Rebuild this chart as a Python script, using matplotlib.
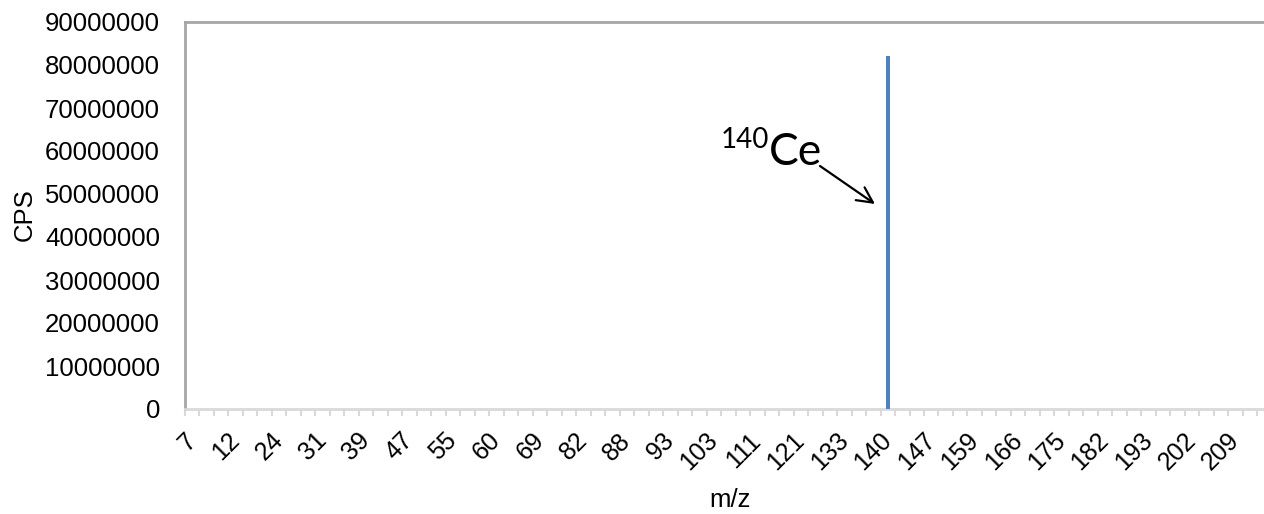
import matplotlib
matplotlib.use("Agg")
import matplotlib.pyplot as plt
from matplotlib.ticker import FixedLocator, FuncFormatter
import numpy as np

# ---- data ----
# labelled m/z categories (every third category carries a label)
tick_labels = ["7", "12", "24", "31", "39", "47", "55", "60", "69", "82", "88", "93",
               "103", "111", "121", "133", "140", "147", "159", "166", "175", "182",
               "193", "202", "209"]
n_categories = 74
label_step = 3
peak_label = "140"
peak_cps = 82000000
cps = np.zeros(n_categories)
cps[tick_labels.index(peak_label) * label_step] = peak_cps
y_ticks = [0, 10000000, 20000000, 30000000, 40000000, 50000000, 60000000,
           70000000, 80000000, 90000000]

W, H = 1264, 514
plt.rcParams['font.family'] = ['Liberation Sans', 'DejaVu Sans']
fig = plt.figure(figsize=(W / 100, H / 100), dpi=100)
ax = fig.add_axes([185 / W, 1 - 409 / H, 1 - 185 / W, (409 - 22) / H])

x = np.arange(n_categories)
ax.bar(x, cps, width=0.28, color="#4F81BD", zorder=3)

ax.set_xlim(-0.5, -0.5 + (W - 185) / 14.49)
ax.set_ylim(0, 90000000)

ax.yaxis.set_major_locator(FixedLocator(y_ticks))
ax.yaxis.set_major_formatter(FuncFormatter(lambda v, p: f"{int(v)}"))
ax.tick_params(axis="y", length=0, pad=18, labelsize=18.5, colors="black")

label_pos = np.arange(len(tick_labels)) * label_step
ax.set_xticks(label_pos)
ax.set_xticklabels(tick_labels, rotation=45, ha="right", va="center",
                   rotation_mode="anchor", fontsize=18)
ax.tick_params(axis="x", which="major", length=0, pad=20)
ax.set_xticks(np.arange(-0.5, n_categories + 0.5, 1), minor=True)
ax.tick_params(axis="x", which="minor", length=5, width=1.5, color="#d9d9d9")

for side in ["left", "top"]:
    ax.spines[side].set_color("#a6a6a6")
    ax.spines[side].set_linewidth(2)
ax.spines["bottom"].set_color("#d9d9d9")
ax.spines["bottom"].set_linewidth(2)
ax.spines["right"].set_visible(False)

fig.text(25 / W, 1 - 215 / H, "CPS", rotation=90, ha="center", va="center",
         fontsize=18.5)
fig.text(730 / W, 1 - 500 / H, "m/z", ha="center", va="center", fontsize=18.5)

# annotation
fig.text(721 / W, 1 - 148 / H, "140", ha="left", va="baseline",
         fontsize=20, family=["Lato", "DejaVu Sans"])
fig.text(769 / W, 1 - 165 / H, "Ce", ha="left", va="baseline",
         fontsize=32, family=["Lato", "DejaVu Sans"])
ax.annotate("", xy=(875 / W, 1 - 204 / H), xycoords="figure fraction",
            xytext=(820 / W, 1 - 166 / H), textcoords="figure fraction",
            arrowprops=dict(arrowstyle="->", color="black", lw=1.6,
                            mutation_scale=28, shrinkA=0, shrinkB=0))

fig.savefig("out.png", dpi=100)
